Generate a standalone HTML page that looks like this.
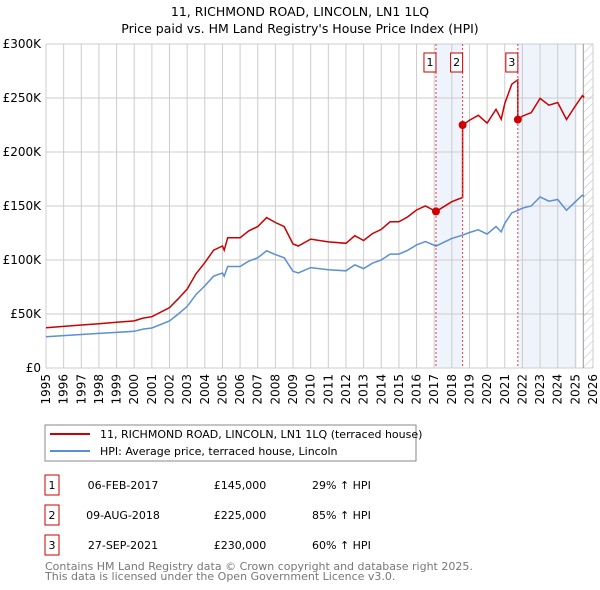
<!DOCTYPE html>
<html><head><meta charset="utf-8"><style>
body{margin:0;background:#fff;width:600px;height:590px;overflow:hidden;font-family:"DejaVu Sans","Liberation Sans",sans-serif}
svg{position:absolute;left:0;top:0}
</style></head><body>
<svg id="c" width="600" height="590">
<defs><pattern id="hatch" width="6" height="6" patternUnits="userSpaceOnUse" patternTransform="rotate(45)"><line x1="0" y1="0" x2="0" y2="6" stroke="#bbb" stroke-width="1"/></pattern></defs>
<text x="300" y="16" text-anchor="middle" font-size="12.5" fill="#000">11, RICHMOND ROAD, LINCOLN, LN1 1LQ</text>
<text x="300" y="33" text-anchor="middle" font-size="12.5" fill="#000">Price paid vs. HM Land Registry's House Price Index (HPI)</text>
<g id="grid"></g><g id="marks"></g>
<rect x="45" y="425" width="371" height="36" fill="#fff" stroke="#888"/>
<line x1="50" y1="434" x2="90" y2="434" stroke="#cc0000" stroke-width="2"/>
<text x="100" y="438" font-size="11">11, RICHMOND ROAD, LINCOLN, LN1 1LQ (terraced house)</text>
<line x1="50" y1="451" x2="90" y2="451" stroke="#5b8fd4" stroke-width="2"/>
<text x="100" y="455" font-size="11">HPI: Average price, terraced house, Lincoln</text>
<g id="table" font-size="11"></g>
<text x="45" y="570" font-size="11" fill="#777">Contains HM Land Registry data © Crown copyright and database right 2025.</text>
<text x="45" y="580" font-size="11" fill="#777">This data is licensed under the Open Government Licence v3.0.</text>
</svg>
<script>
const hpiYears=[1995,1996,1997,1998,1999,2000,2000.5,2001,2002,2002.5,2003,2003.5,2004,2004.5,2005,2005.1,2005.3,2006,2006.5,2007,2007.5,2008,2008.5,2009,2009.3,2010,2011,2012,2012.5,2013,2013.5,2014,2014.5,2015,2015.5,2016,2016.5,2017.1,2017.5,2018,2018.6,2019,2019.5,2020,2020.5,2020.8,2021,2021.4,2021.75,2022,2022.5,2023,2023.5,2024,2024.5,2025,2025.4,2025.5];
const hpiValues=[29,30,31,32,33,34,36,37,43.5,50,57,68,76,85,88,85,94,94,99,102,108.5,105,102,89.5,88,93,91,90,95.5,92,97,100,105.5,105.5,109,114,117,113,116,120,123,125.5,128,124,131,126,134,143.7,146,148,150,158.4,154.4,156,146,154,160,159];
const saleLabels=["1","2","3"];
const saleYears=[2017.1,2018.61,2021.74];
const salePrices=[145000,225000,230000];
const saleDates=["06-FEB-2017","09-AUG-2018","27-SEP-2021"];
const salePriceText=["£145,000","£225,000","£230,000"];
const saleHpiText=["29% ↑ HPI","85% ↑ HPI","60% ↑ HPI"];
const yTicks=[0,50000,100000,150000,200000,250000,300000];
const yTickLabels=["£0","£50K","£100K","£150K","£200K","£250K","£300K"];
const NS="http://www.w3.org/2000/svg";
const X0=46,X1=593,Y0=368,Y1=44;
const xs=y=>X0+(y-1995)/(2026-1995)*(X1-X0);
const ys=v=>Y0-v/300000*(Y0-Y1);
function mk(t,a,p){const e=document.createElementNS(NS,t);for(const k in a)e.setAttribute(k,a[k]);p.appendChild(e);return e;}
const g=document.getElementById('grid'),m=document.getElementById('marks');
function hpiAt(yr){for(let i=1;i<hpiYears.length;i++){if(yr<=hpiYears[i]){const t=(yr-hpiYears[i-1])/(hpiYears[i]-hpiYears[i-1]);return (hpiValues[i-1]+t*(hpiValues[i]-hpiValues[i-1]))*1000;}}return hpiValues[hpiValues.length-1]*1000;}
// shading
let r=mk('rect',{x:xs(saleYears[0]),y:Y1,width:xs(saleYears[1])-xs(saleYears[0]),height:Y0-Y1,fill:'#eef3fc'},g);

r=mk('rect',{x:xs(saleYears[2]),y:Y1,width:xs(2025.1)-xs(saleYears[2]),height:Y0-Y1,fill:'#eef3fc'},g);

r=mk('rect',{x:xs(2025.45),y:Y1,width:X1-xs(2025.45),height:Y0-Y1,fill:'url(#hatch)'},g);

for(let yr=1995;yr<=2026;yr++){const x=xs(yr);
 mk('line',{x1:x,y1:Y1,x2:x,y2:Y0,stroke:'#ccc'},g);
 const t=mk('text',{x:0,y:0,'font-size':'12','text-anchor':'end',transform:`translate(${x+4},${Y0+6}) rotate(-90)`},g);t.textContent=yr;
 }
yTicks.forEach((v,i)=>{const y=ys(v);mk('line',{x1:X0,y1:y,x2:X1,y2:y,stroke:'#ccc'},g);
 const t=mk('text',{x:X0-5,y:y+4,'font-size':'12','text-anchor':'end'},g);t.textContent=yTickLabels[i];
 });
mk('line',{x1:xs(2025.45),y1:Y1,x2:xs(2025.45),y2:Y0,stroke:'#999'},g);
// hpi line
let d=hpiYears.map((y,i)=>(i?'L':'M')+xs(y).toFixed(1)+','+ys(hpiValues[i]*1000).toFixed(1)).join('');
let p=mk('path',{d,fill:'none',stroke:'#5b8fd4','stroke-width':1.5},m);

// red line: hpi scaled by latest sale ratio
const ratios=saleYears.map((y,i)=>salePrices[i]/hpiAt(y));
const pts=[];
hpiYears.forEach((y,i)=>{let k=0;for(let j=0;j<saleYears.length;j++)if(y>=saleYears[j])k=j;
 pts.push([y,hpiValues[i]*1000*ratios[k]]);});
saleYears.forEach((y,j)=>{const prev=j?ratios[j-1]:ratios[0];pts.push([y-0.001,hpiAt(y)*prev]);pts.push([y,salePrices[j]]);});
pts.sort((a,b)=>a[0]-b[0]);
d=pts.map((q,i)=>(i?'L':'M')+xs(q[0]).toFixed(1)+','+ys(q[1]).toFixed(1)).join('');
p=mk('path',{d,fill:'none',stroke:'#cc0000','stroke-width':1.5},m);

saleYears.forEach((y,i)=>{const x=xs(y);
 const l=mk('line',{x1:x,y1:Y1,x2:x,y2:Y0,stroke:'#e04040','stroke-dasharray':'2,2'},m);
 
 const c=mk('circle',{cx:x,cy:ys(salePrices[i]),r:4,fill:'#cc0000'},m);
 
 const b=mk('rect',{x:x-12,y:53,width:12,height:19,fill:'#fff',stroke:'#cc0000'},m);
 
 const t=mk('text',{x:x-6,y:66,'font-size':'11','text-anchor':'middle'},m);t.textContent=saleLabels[i];
 });
const tb=document.getElementById('table');
saleLabels.forEach((s,i)=>{const y=483+i*30;
 const b=mk('rect',{x:45,y:y-8,width:14,height:20,fill:'#fff',stroke:'#cc0000'},tb);
 
 const cols=[[52,s,'middle'],[123,saleDates[i],'middle'],[240,salePriceText[i],'middle'],[312,saleHpiText[i],'start']];
 cols.forEach(c=>{const t=mk('text',{x:c[0],y:y+6,'text-anchor':c[2]},tb);t.textContent=c[1];
 });});
</script>
</body></html>
